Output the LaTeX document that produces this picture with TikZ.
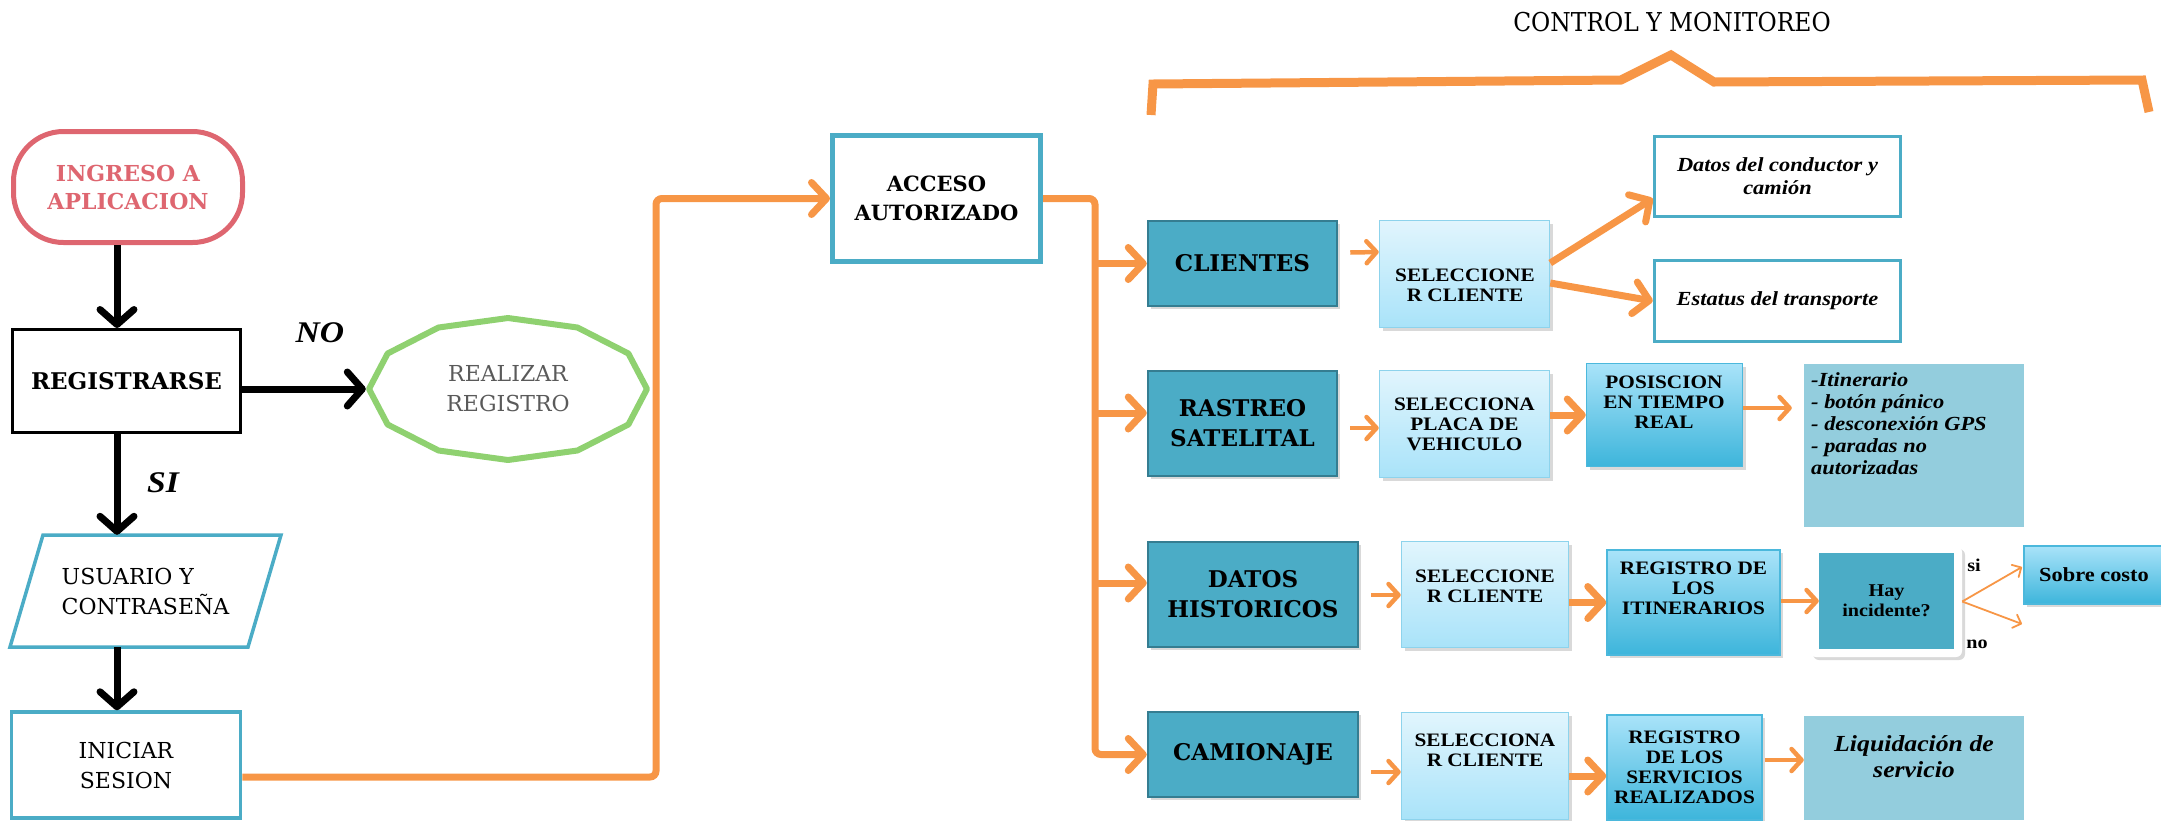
\documentclass[tikz,border=0pt]{standalone}
\usepackage{fontspec}
\setmainfont{DejaVu Serif}
\newfontfamily\tms[FakeStretch=1.12]{Liberation Serif}
\newfontfamily\dvc[FakeStretch=0.9]{DejaVu Serif}
\usetikzlibrary{arrows.meta,shadows,calc}
\newcommand\myfs[2]{\fontsize{#1}{#2}\selectfont}
\definecolor{ored}{HTML}{DE6670}
\definecolor{ogreen}{HTML}{8FD170}
\definecolor{oblue}{HTML}{4BACC6}
\definecolor{oorange}{HTML}{F79646}
\definecolor{dteal}{HTML}{4BACC6}
\definecolor{dtealb}{HTML}{357D91}
\definecolor{lb1}{HTML}{E1F5FD}
\definecolor{lb2}{HTML}{A9E3F9}
\definecolor{lbb}{HTML}{8DD3EC}
\definecolor{mb2}{HTML}{3DB5DB}
\definecolor{mbb}{HTML}{4BB8DC}
\definecolor{steel}{HTML}{93CDDD}
\definecolor{gtext}{HTML}{5A5A5A}
\begin{document}
\begin{tikzpicture}[x=1pt,y=-1pt,
 every node/.style={inner sep=0pt,align=center},
 shad/.style={drop shadow={opacity=0.3,shadow xshift=3pt,shadow yshift=-3pt}},
 ingbox/.style={draw=ored,line width=5pt,rounded corners=50pt,minimum width=229,minimum height=111,text=ored,font=\bfseries\myfs{22}{28}},
 blkbox/.style={draw=black,line width=3pt,minimum width=228,minimum height=103,font=\bfseries\myfs{23}{28}},
 plainbox/.style={draw=oblue,line width=3.5pt,fill=white},
 teal/.style={fill=dteal,draw=dtealb,line width=2.5pt,shad,font=\bfseries\myfs{23}{30}},
 light/.style={top color=lb1,bottom color=lb2,draw=lbb,line width=1.5pt,shad},
 medium/.style={top color=lb2,bottom color=mb2,draw=mbb,line width=1.5pt,shad},
 steelbox/.style={fill=steel},
 tb/.style={font=\tms\bfseries\myfs{19}{20}},
 tbi/.style={font=\tms\bfseries\itshape\myfs{20}{23}},
 bighead/.style={-{Straight Barb[round,length=15pt,width=32pt]}},
 blkarr/.style={draw=black,line width=7pt,-{Straight Barb[round,length=15pt,width=34pt]}},
 oline/.style={draw=oorange,line width=7pt,rounded corners=6pt},
 obig/.style={draw=oorange,line width=7pt,bighead},
 omed/.style={draw=oorange,line width=4.5pt,-{Straight Barb[round,length=10pt,width=22pt]}},
 othin/.style={draw=oorange,line width=1.8pt,-{Straight Barb[round,length=7pt,width=14pt]}}
]
\useasboundingbox (0,0) rectangle (2161,820);

% ---------- left column ----------
\node[ingbox] (ing) at (128,187) {INGRESO A\\APLICACION};
\node[blkbox] (reg) at (126.5,381) {REGISTRARSE};
\node[minimum width=284,minimum height=148,text=gtext,font=\myfs{22}{30}] (rr) at (508,389) {REALIZAR\\REGISTRO};
\draw[ogreen,line width=6pt,line join=round] plot[samples at={0,30,...,330},variable=\t] ({508+139*cos(\t)},{389+71*sin(\t)}) -- cycle;
\node[minimum height=112,font=\myfs{22}{30},align=left] (usu) at (145.5,591) {USUARIO Y\\CONTRASEÑA};
\draw[oblue,line width=3.5pt] (43,535) -- (281,535) -- (248,647) -- (10,647) -- cycle;
\node[plainbox,minimum width=229,minimum height=106,font=\myfs{22}{30}] (ini) at (126,765) {INICIAR\\SESION};

\coordinate (ax) at (117,0);
\draw[blkarr] (ing.south -| ax) -- (reg.north -| ax);
\draw[blkarr] (reg.south -| ax) -- (usu.north -| ax);
\draw[blkarr] (usu.south -| ax) -- (ini.north -| ax);
\draw[blkarr] (reg.east |- rr.west) -- (rr.west);
\node[font=\tms\bfseries\itshape\myfs{30}{30}] (nolbl) at (320,333) {NO};
\node[font=\tms\bfseries\itshape\myfs{30}{30}] (silbl) at (163,483) {SI};

% ---------- access ----------
\node[plainbox,line width=5pt,minimum width=208,minimum height=126,font=\bfseries\myfs{21}{29}] (acc) at (936.5,198.5) {ACCESO\\AUTORIZADO};

% ---------- control y monitoreo ----------
\node[font=\dvc\myfs{26}{28}] (title) at (1672,22) {CONTROL Y MONITOREO};
\draw[oorange,line width=9pt] (1151,115) -- (1153,84) -- (1621,80) -- (1671,55) -- (1714,82) -- (2142,80) -- (2149,112);

\node[teal,minimum width=189,minimum height=85] (cli) at (1242.5,263.5) {CLIENTES};
\node[teal,minimum width=189,minimum height=105] (ras) at (1242.5,423.5) {RASTREO\\SATELITAL};
\node[teal,minimum width=210,minimum height=105] (dat) at (1253,594.5) {DATOS\\HISTORICOS};
\node[teal,minimum width=210,minimum height=85] (cam) at (1253,754.5) {CAMIONAJE};

% row 1
\node[light,minimum width=170,minimum height=107] (sel1) at (1464.5,274) {};
\node[tb] (sel1t) at (1465,285) {SELECCIONE\\R CLIENTE};
\node[plainbox,minimum width=246,minimum height=80,tbi] (datos) at (1777.5,176.5) {Datos del conductor y\\camión};
\node[plainbox,minimum width=246,minimum height=81,tbi] (est) at (1777.5,301) {Estatus del transporte};

% row 2
\node[light,minimum width=170,minimum height=107,tb] (sel2) at (1464.5,424) {SELECCIONA\\PLACA DE\\VEHICULO};
\node[medium,minimum width=156,minimum height=103] (pos) at (1664.5,415) {};
\node[tb] (post) at (1664,402) {POSISCION\\EN TIEMPO\\REAL};
\node[steelbox,minimum width=220,minimum height=163] (itin) at (1914,445.5) {};
\node[tbi,anchor=north west,align=left,font=\tms\bfseries\itshape\myfs{20}{22}] (itint) at (1811,372) {-Itinerario\\- botón pánico\\- desconexión GPS\\- paradas no\\autorizadas};

% row 3
\node[light,minimum width=167,minimum height=106] (sel3) at (1485,594.5) {};
\node[tb] (sel3t) at (1485,586) {SELECCIONE\\R CLIENTE};
\node[medium,minimum width=173,minimum height=105] (regi) at (1693.5,602.5) {};
\node[tb] (regit) at (1693.5,588) {REGISTRO DE\\LOS\\ITINERARIOS};
\node[fill=white,rounded corners=6pt,shad,minimum width=152,minimum height=111] (hayf) at (1886,601.5) {};
\node[fill=dteal,minimum width=135,minimum height=96,font=\tms\bfseries\myfs{18}{20}] (hay) at (1886.5,601) {Hay\\incidente?};
\node[medium,minimum width=140,minimum height=58,font=\tms\bfseries\myfs{20}{22}] (sob) at (2094,575) {Sobre costo};
\node[font=\tms\bfseries\myfs{18}{20}] (silb) at (1974,565) {si};
\node[font=\tms\bfseries\myfs{18}{20}] (nolb) at (1977,644) {no};
\coordinate (siend) at (2022,567);
\coordinate (noend) at (2022,624);

% row 4
\node[light,minimum width=167,minimum height=107] (sel4) at (1485,766) {};
\node[tb] (sel4t) at (1485,750) {SELECCIONA\\R CLIENTE};
\node[medium,minimum width=155,minimum height=105,tb] (regs) at (1684.5,767.5) {REGISTRO\\DE LOS\\SERVICIOS\\REALIZADOS};
\node[steelbox,minimum width=220,minimum height=104] (liq) at (1914,768) {};
\node[font=\tms\bfseries\itshape\myfs{23}{26}] (liqt) at (1914,757) {Liquidación de\\servicio};

% ---------- orange connectors ----------
\coordinate (c1) at (656,777);
\draw[oline,bighead] (ini.east |- c1) -- (c1) -- (c1 |- acc.west) -- (acc.west);
\coordinate (c2) at (1095,0);
\draw[oline,bighead] (acc.east) -- (acc.east -| c2) -- (c2 |- cam.west) -- (cam.west);
\draw[obig] (c2 |- cli.west) -- (cli.west);
\coordinate (b2) at (1095,413);
\draw[obig] (b2) -- (ras.west |- b2);
\coordinate (b3) at (1095,583);
\draw[obig] (b3) -- (dat.west |- b3);

\draw[omed] ($(cli.east)+(12,-11)$) -- ($(sel1.west)+(0,-22)$);
\draw[obig] ($(sel1.east)+(0,-11)$) -- ($(datos.west)+(0,22)$);
\draw[obig] ($(sel1.east)+(0,9)$) -- (est.west);

\draw[omed] ($(ras.east)+(12,4.5)$) -- ($(sel2.west)+(0,4)$);
\draw[obig] (sel2.east |- pos.west) -- (pos.west);
\draw[omed] ($(pos.east)+(0,-7)$) -- ($(itin.west)+(-12,-37.5)$);

\draw[omed] ($(dat.east)+(12,0.5)$) -- ($(sel3.west)+(0,0.5)$);
\draw[obig] (sel3.east |- regi.west) -- (regi.west);
\draw[omed] (regi.east |- hay.west) -- (hay.west);
\draw[othin] (hayf.east) -- (siend);
\draw[othin] (hayf.east) -- (noend);

\draw[omed] ($(cam.east)+(12,17.5)$) -- ($(sel4.west)+(0,6)$);
\draw[obig] ($(sel4.east)+(0,10)$) -- ($(regs.west)+(0,8.5)$);
\draw[omed] ($(regs.east)+(2,-7.5)$) -- ($(liq.west)+(0,-8)$);
\end{tikzpicture}
\end{document}
